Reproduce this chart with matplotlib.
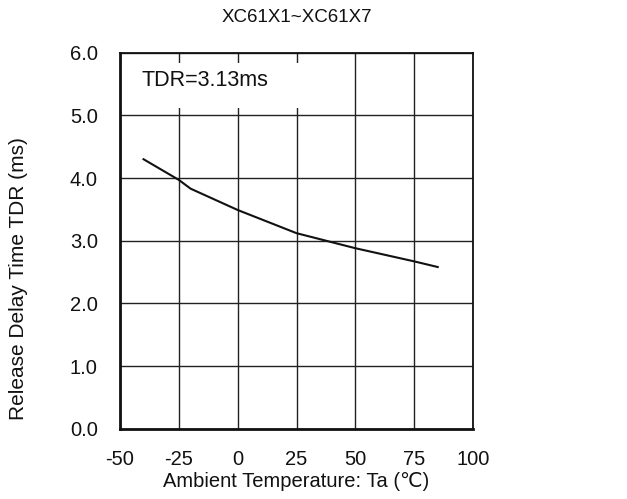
import matplotlib
matplotlib.use("Agg")
import matplotlib.pyplot as plt
from matplotlib.patches import Rectangle

plt.rcParams["font.family"] = ["Liberation Sans", "DejaVu Sans"]

# release delay vs ambient temperature
temp_c = [-40, -25, -20, 0, 25, 50, 75, 85]
tdr_ms = [4.30, 3.97, 3.83, 3.49, 3.12, 2.88, 2.67, 2.58]

x_ticks = [-50, -25, 0, 25, 50, 75, 100]
y_ticks = [0.0, 1.0, 2.0, 3.0, 4.0, 5.0, 6.0]
x_tick_labels = ["-50", "-25", "0", "25", "50", "75", "100"]
y_tick_labels = ["0.0", "1.0", "2.0", "3.0", "4.0", "5.0", "6.0"]

fig = plt.figure(figsize=(6.27, 4.99), dpi=100)
ax = fig.add_axes([0.1914, 0.1409, 0.563, 0.7535])

ax.set_xlim(-50, 100)
ax.set_ylim(0, 6)
ax.set_xticks(x_ticks, x_tick_labels)
ax.set_yticks(y_ticks, y_tick_labels)
ax.tick_params(axis="both", length=0, labelsize=14.5, colors="#111111")
ax.tick_params(axis="x", pad=15)
ax.tick_params(axis="y", pad=16)
ax.grid(True, color="#222222", linewidth=1.0, zorder=1)
ax.set_axisbelow(True)

for side in ("left", "bottom"):
    ax.spines[side].set_linewidth(2.0)
for side in ("top", "right"):
    ax.spines[side].set_linewidth(1.3)
for sp in ax.spines.values():
    sp.set_color("#111111")
    sp.set_zorder(5)

# white panel behind the annotation hides the grid there
ax.add_patch(Rectangle((0, 0.853), 0.58, 0.12, transform=ax.transAxes,
                       facecolor="white", edgecolor="none", zorder=2))
ax.text(0.06, 0.927, "TDR=3.13ms", transform=ax.transAxes, fontsize=15.5,
        ha="left", va="center", color="#111111", zorder=3)

ax.plot(temp_c, tdr_ms, color="#111111", linewidth=1.5, zorder=4)

ax.set_xlabel("Ambient Temperature: Ta (\u2103)", fontsize=14.5, color="#111111")
ax.xaxis.set_label_coords(0.5, -0.115)
ax.set_ylabel("Release Delay Time TDR (ms)", fontsize=15, color="#111111")
ax.yaxis.set_label_coords(-0.262, 0.40)

fig.text(0.473, 1 - 17 / 499, "XC61X1~XC61X7", fontsize=13.5, ha="center",
         va="center", color="#111111")

fig.savefig("out.png", dpi=100)
